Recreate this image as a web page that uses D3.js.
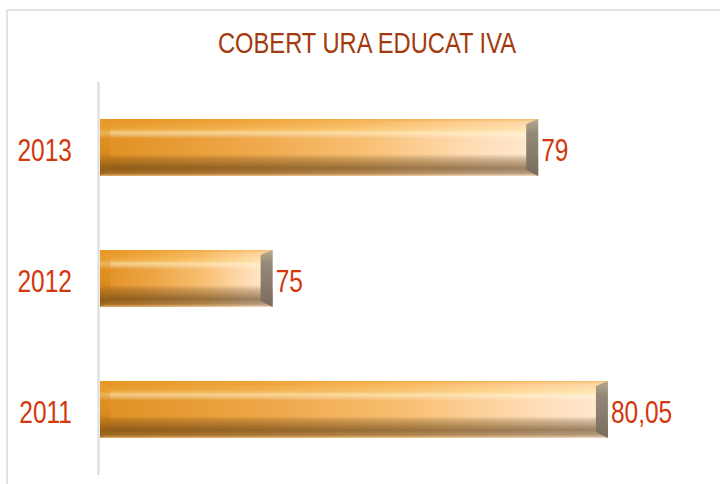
<!DOCTYPE html>
<html><head><meta charset="utf-8">
<script src="https://cdn.jsdelivr.net/npm/d3@7"></script>
<style>html,body{margin:0;padding:0;background:#fff;}svg{display:block;}</style>
</head><body>
<script>
const title = "COBERT URA EDUCAT IVA";
const categories = ["2011", "2012", "2013"];
const values = [80.05, 75, 79];

const W = 720, H = 484;
const svg = d3.select("body").append("svg").attr("width", W).attr("height", H);
const defs = svg.append("defs");

const FONT = "'Liberation Sans',Arial,sans-serif";
const CONDENSE = 0.79;
function condense(sel) {
  sel.each(function () {
    const w = this.getComputedTextLength();
    d3.select(this).attr("textLength", w * CONDENSE).attr("lengthAdjust", "spacingAndGlyphs");
  });
}

// chart border
svg.append("rect").attr("x", 7).attr("y", 10).attr("width", W + 20).attr("height", H + 20)
  .attr("fill", "none").attr("stroke", "#d9d9d9").attr("stroke-width", 1.5);

// title
svg.append("text").attr("x", 367).attr("y", 53).attr("text-anchor", "middle")
  .attr("font-family", FONT).attr("font-size", 29).attr("fill", "#a33a0e")
  .attr("textLength", 298).attr("lengthAdjust", "spacingAndGlyphs")
  .text(title);

const x = d3.scaleLinear().domain([72.4, 81]).range([100, 671]);
const y = d3.scaleBand().domain(categories.slice().reverse()).range([82, 475])
  .paddingInner(0.565).paddingOuter(0.2825);

// gradients
const gH = defs.append("linearGradient").attr("id", "gH").attr("x1", 0).attr("x2", 1).attr("y1", 0).attr("y2", 0);
[[0, "#e09022"], [0.3, "#eda444"], [0.6, "#f8bf72"], [0.85, "#ffdcb4"], [1, "#ffead2"]]
  .forEach(s => gH.append("stop").attr("offset", s[0]).attr("stop-color", s[1]));
const gV = defs.append("linearGradient").attr("id", "gV").attr("x1", 0).attr("x2", 0).attr("y1", 0).attr("y2", 1);
[[0, "#f09a20", 0.55], [0.06, "#f5a830", 0.25], [0.16, "#ffd060", 0.25], [0.24, "#fff4c8", 0.6],
 [0.34, "#ffffff", 0.0], [0.62, "#000000", 0.0], [0.74, "#5a3a10", 0.35], [0.86, "#4a2e0e", 0.55],
 [0.95, "#5a4020", 0.45], [1, "#f0d0b0", 0.5]]
  .forEach(s => gV.append("stop").attr("offset", s[0]).attr("stop-color", s[1]).attr("stop-opacity", s[2]));
const gR = defs.append("linearGradient").attr("id", "gR").attr("x1", 0).attr("x2", 0).attr("y1", 0).attr("y2", 1);
[[0, "#b8a890"], [0.25, "#958878"], [1, "#7a6c5c"]]
  .forEach(s => gR.append("stop").attr("offset", s[0]).attr("stop-color", s[1]));
const gL = defs.append("linearGradient").attr("id", "gL").attr("x1", 0).attr("x2", 0).attr("y1", 0).attr("y2", 1);
[[0, "#f0a030"], [0.5, "#d8881a"], [1, "#8a5818"]]
  .forEach(s => gL.append("stop").attr("offset", s[0]).attr("stop-color", s[1]));

// axis line
svg.append("line").attr("x1", 98.5).attr("x2", 98.5).attr("y1", 82).attr("y2", 475)
  .attr("stroke", "#d9d9d9").attr("stroke-width", 2);

const data = categories.map((c, i) => ({ c, v: values[i] }));
const bars = svg.append("g").selectAll("g").data(data).join("g");

bars.each(function (d) {
  const g = d3.select(this);
  const x0 = x.range()[0], x1 = x(d.v), y0 = y(d.c), h = y.bandwidth(), y1 = y0 + h;
  const bx = 12, bt = 5, bb = 6;
  g.append("rect").attr("x", x0).attr("y", y0).attr("width", x1 - x0).attr("height", h).attr("fill", "url(#gH)");
  g.append("rect").attr("x", x0).attr("y", y0).attr("width", x1 - x0).attr("height", h).attr("fill", "url(#gV)");
  // left bevel
  g.append("path").attr("d", `M${x0},${y0}L${x0 + 10},${y0 + bt}L${x0 + 10},${y1 - bb}L${x0},${y1}Z`)
    .attr("fill", "url(#gL)").attr("opacity", 0.45);
  // right bevel
  g.append("path").attr("d", `M${x1},${y0}L${x1 - bx},${y0 + bt}L${x1 - bx},${y1 - bb}L${x1},${y1}Z`)
    .attr("fill", "url(#gR)");
  // labels
  g.append("text").attr("x", x1 + 3).attr("y", y0 + h / 2 + 13)
    .attr("font-family", FONT).attr("font-size", 31).attr("fill", "#d2380c")
    .text(String(d.v).replace(".", ",")).call(condense);
  g.append("text").attr("x", 72).attr("y", y0 + h / 2 + 13).attr("text-anchor", "end")
    .attr("font-family", FONT).attr("font-size", 31).attr("fill", "#d2380c")
    .text(d.c).call(condense);
});
</script>
</body></html>
